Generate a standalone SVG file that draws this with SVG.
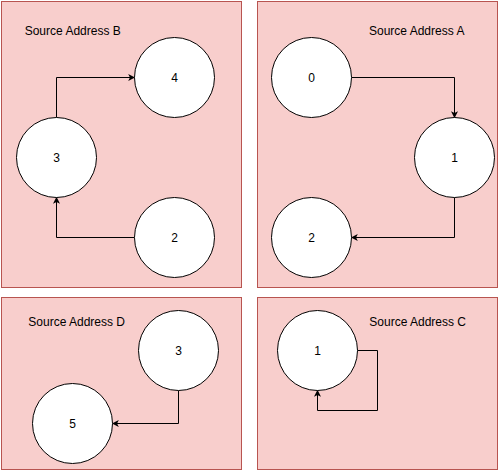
<svg xmlns="http://www.w3.org/2000/svg" width="498" height="471" viewBox="0 0 498 471">
<style>
.panel{fill:#f8cecc;stroke:#b85450;stroke-width:1}
.node circle{fill:#ffffff;stroke:#000000;stroke-width:1}
text{font-family:"Liberation Sans",Arial,Helvetica,sans-serif;font-size:12px;fill:#000000}
.num{text-anchor:middle}
.edge{fill:none;stroke:#000000;stroke-width:1}
</style>
<defs>
<marker id="arr" viewBox="0 0 10 10" refX="9" refY="5" markerWidth="7" markerHeight="7" markerUnits="userSpaceOnUse" orient="auto">
<path d="M0,0 L10,5 L0,10 L2.5,5 Z" fill="#000000"/>
</marker>
</defs>
<g id="panel-B"><rect class="panel" x="1.5" y="1.5" width="240" height="286"/><text x="24.7" y="35">Source Address B</text></g>
<g id="panel-A"><rect class="panel" x="257.5" y="1.5" width="240" height="286"/><text x="369" y="35">Source Address A</text></g>
<g id="panel-D"><rect class="panel" x="1.5" y="297.5" width="240" height="172"/><text x="28.3" y="326">Source Address D</text></g>
<g id="panel-C"><rect class="panel" x="257.5" y="297.5" width="240" height="172"/><text x="369.3" y="326">Source Address C</text></g>
<g id="connectors">
<path class="edge" d="M56.5,117.5 V77.5 H134.5" marker-end="url(#arr)"/>
<path class="edge" d="M134.5,237.5 H56.5 V197.5" marker-end="url(#arr)"/>
<path class="edge" d="M351.5,77.5 H454.5 V117.5" marker-end="url(#arr)"/>
<path class="edge" d="M454.5,197.5 V237.5 H351.5" marker-end="url(#arr)"/>
<path class="edge" d="M178.5,390.5 V423.5 H112.5" marker-end="url(#arr)"/>
<path class="edge" d="M357.5,350.5 H377.5 V410.5 H317.5 V390.5" marker-end="url(#arr)"/>
</g>
<g id="node-B4" class="node"><circle cx="174.5" cy="77.5" r="40"/><text class="num" x="174.5" y="81.5">4</text></g>
<g id="node-B3" class="node"><circle cx="56.5" cy="157.5" r="40"/><text class="num" x="56.5" y="161.5">3</text></g>
<g id="node-B2" class="node"><circle cx="174.5" cy="237.5" r="40"/><text class="num" x="174.5" y="241.5">2</text></g>
<g id="node-A0" class="node"><circle cx="311.5" cy="77.5" r="40"/><text class="num" x="311.5" y="81.5">0</text></g>
<g id="node-A1" class="node"><circle cx="454.5" cy="157.5" r="40"/><text class="num" x="454.5" y="161.5">1</text></g>
<g id="node-A2" class="node"><circle cx="311.5" cy="237.5" r="40"/><text class="num" x="311.5" y="241.5">2</text></g>
<g id="node-D3" class="node"><circle cx="178.5" cy="350.5" r="40"/><text class="num" x="178.5" y="354.5">3</text></g>
<g id="node-D5" class="node"><circle cx="72.5" cy="423.5" r="40"/><text class="num" x="72.5" y="427.5">5</text></g>
<g id="node-C1" class="node"><circle cx="317.5" cy="350.5" r="40"/><text class="num" x="317.5" y="354.5">1</text></g>
</svg>
